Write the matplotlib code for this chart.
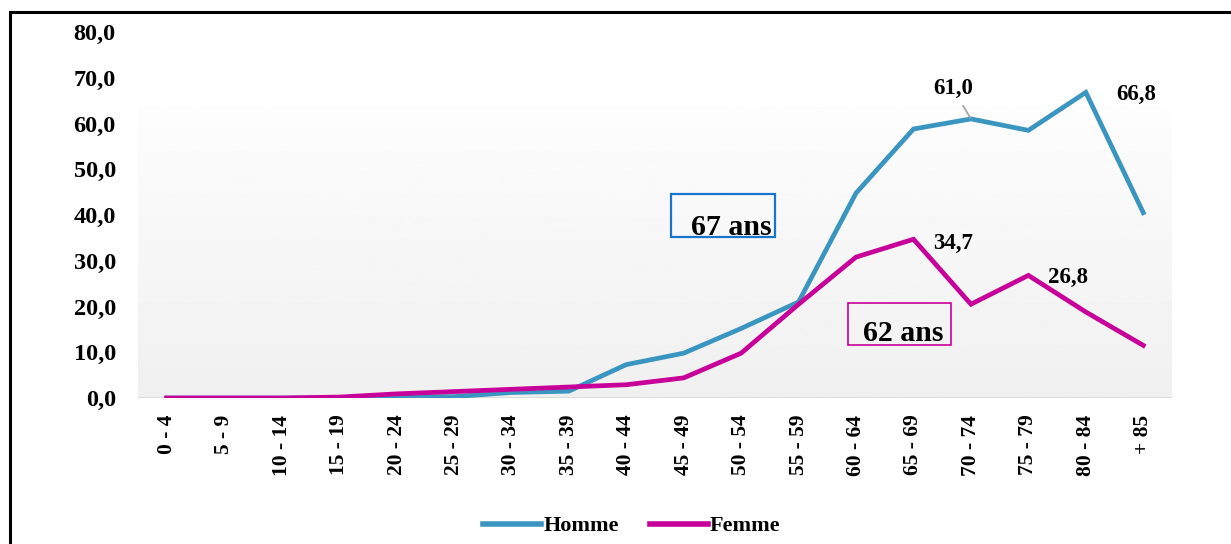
import matplotlib
matplotlib.use("Agg")
import matplotlib.pyplot as plt
import matplotlib.patches as mpatches
import numpy as np

plt.rcParams.update({"font.family": ["Liberation Serif", "DejaVu Serif"], "font.weight": "bold"})

HOMME = "#3A96C0"
FEMME = "#C8009A"
BOXBLUE = "#1874CD"

ages = ["0 - 4", "5 - 9", "10 - 14", "15 - 19", "20 - 24", "25 - 29", "30 - 34", "35 - 39",
        "40 - 44", "45 - 49", "50 - 54", "55 - 59", "60 - 64", "65 - 69", "70 - 74",
        "75 - 79", "80 - 84", "+ 85"]
homme = [0.0, 0.0, 0.0, 0.0, 0.2, 0.3, 1.2, 1.5, 7.3, 9.8, 15.2, 21.0, 44.8, 58.8, 61.0, 58.5, 66.8, 40.5]
femme = [0.0, 0.0, 0.0, 0.2, 0.9, 1.4, 1.9, 2.4, 2.9, 4.4, 9.8, 20.5, 30.8, 34.7, 20.5, 26.8, 18.8, 11.5]
yticks = [0, 10, 20, 30, 40, 50, 60, 70, 80]

W, H = 1231, 544
fig = plt.figure(figsize=(W / 100, H / 100), dpi=100)
ax = fig.add_axes([138 / W, 1 - 398 / H, (1172 - 138) / W, (398 - 32) / H])
x = np.arange(len(ages))
ax.set_xlim(-0.5, len(ages) - 0.5)
ax.set_ylim(0, 80)

# plot-area gradient (white -> light grey)
grad = np.linspace(0.992, 0.94, 256).reshape(-1, 1)
ax.imshow(grad, cmap="gray", vmin=0, vmax=1, aspect="auto",
          extent=(-0.5, len(ages) - 0.5, 0, 63.4), zorder=0)
ax.axhline(0, color="#D9D9D9", lw=2, zorder=1)

ax.plot(x, homme, color=HOMME, lw=3.4, label="Homme", zorder=3, solid_joinstyle="miter")
ax.plot(x, femme, color=FEMME, lw=3.4, label="Femme", zorder=3, solid_joinstyle="miter")

for s in ax.spines.values():
    s.set_visible(False)
ax.set_xticks(x)
ax.set_xticklabels(ages, rotation=90, fontsize=15.5, fontweight="bold")
ax.set_yticks(yticks)
ax.set_yticklabels([f"{v:.1f}".replace(".", ",") for v in yticks], fontsize=17.5, fontweight="bold")
ax.tick_params(axis="both", length=0)
ax.tick_params(axis="y", pad=16)
ax.tick_params(axis="x", pad=12)

# data labels
def lab(i, series, dx, dy, leader=False):
    v = series[i]
    txt = f"{v:.1f}".replace(".", ",")
    ax.annotate(txt, (i, v), xytext=(dx, dy), textcoords="offset pixels",
                ha="center", va="center", fontsize=16.5, fontweight="bold", zorder=5,
                arrowprops=dict(arrowstyle="-", color="#A6A6A6", lw=1.3, shrinkA=3, shrinkB=1) if leader else None)

lab(14, homme, -18, 30, leader=True)
lab(16, homme, 50, -2)
lab(13, femme, 40, -4)
lab(15, femme, 40, -2)

# mean-age boxes
ax.add_patch(mpatches.Rectangle((8.78, 35.2), 1.81, 9.4, fill=False, ec=BOXBLUE, lw=1.6, zorder=4))
ax.text(10.53, 35.6, "67 ans", ha="right", va="baseline", fontsize=21.5, fontweight="bold", zorder=5)
ax.add_patch(mpatches.Rectangle((11.86, 11.6), 1.79, 9.2, fill=False, ec=FEMME, lw=1.2, zorder=4))
ax.text(13.53, 12.5, "62 ans", ha="right", va="baseline", fontsize=21.5, fontweight="bold", zorder=5)

leg = fig.legend(loc="center", bbox_to_anchor=(632 / W, 1 - 526 / H), ncol=2, frameon=False,
                 prop={"size": 16, "weight": "bold"}, handlelength=2.6, handletextpad=0.1,
                 columnspacing=1.4)
for h in leg.legend_handles:
    h.set_linewidth(4)

# outer frame
fig.patches.append(mpatches.Rectangle((10 / W, -0.05), 1.2, 1 - 12 / H + 0.05, fill=False,
                                      ec="black", lw=2.2, transform=fig.transFigure))

fig.savefig("out.png", dpi=100)
